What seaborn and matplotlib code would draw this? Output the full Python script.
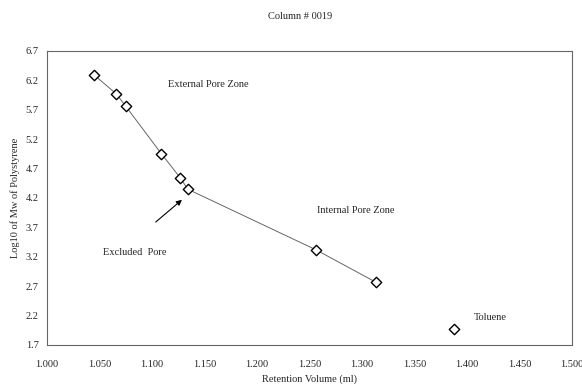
import matplotlib
matplotlib.use("Agg")
import matplotlib.pyplot as plt
import numpy as np
import pandas as pd
import seaborn as sns

# retention volume (ml) vs log10 of Mw
ret_volume = [1.045, 1.066, 1.075, 1.109, 1.127, 1.134, 1.256, 1.313]
log_mw = [6.29, 5.97, 5.76, 4.95, 4.54, 4.35, 3.32, 2.77]
toluene_volume = [1.388]
toluene_log_mw = [1.97]
x_ticks = [1.000, 1.050, 1.100, 1.150, 1.200, 1.250, 1.300, 1.350, 1.400, 1.450, 1.500]
y_ticks = [1.7, 2.2, 2.7, 3.2, 3.7, 4.2, 4.7, 5.2, 5.7, 6.2, 6.7]

df = pd.DataFrame({'vol': ret_volume, 'logmw': log_mw})
df_tol = pd.DataFrame({'vol': toluene_volume, 'logmw': toluene_log_mw})

sns.set_style("white")
plt.rcParams['font.family'] = ['Liberation Serif', 'DejaVu Serif']

fig = plt.figure(figsize=(5.82, 3.84), dpi=100)
ax = fig.add_axes([0.0808, 0.1016, 0.902, 0.7656])

sns.lineplot(x='vol', y='logmw', data=df, ax=ax, color='#666666', linewidth=0.7, sort=False)
sns.scatterplot(x='vol', y='logmw', data=df, ax=ax, marker='D', s=28,
                facecolor='white', edgecolor='black', linewidth=1.0, zorder=3)
sns.scatterplot(x='vol', y='logmw', data=df_tol, ax=ax, marker='D', s=28,
                facecolor='white', edgecolor='black', linewidth=1.0, zorder=3)

ax.set_xlim(1.0, 1.5)
ax.set_ylim(1.7, 6.7)
ax.set_xticks(x_ticks)
ax.set_xticklabels(['%.3f' % v for v in x_ticks], fontsize=7.5)
ax.set_yticks(y_ticks)
ax.set_yticklabels(['%.1f' % v for v in y_ticks], fontsize=7.5)
ax.tick_params(axis='both', direction='out', length=3, width=0.6, color='#777777', pad=3)
ax.tick_params(axis='x', pad=8)
for sp in ax.spines.values():
    sp.set_color('#666666')
    sp.set_linewidth(0.8)

ax.set_xlabel('Retention Volume (ml)', fontsize=7.5, labelpad=4)
ax.set_ylabel('Log10 of Mw of Polystyrene', fontsize=7.5, labelpad=4)
fig.text(0.515, 0.958, 'Column # 0019', ha='center', va='center', fontsize=7.5)

ax.text(1.115, 6.13, 'External Pore Zone', fontsize=7.5, va='center')
ax.text(1.257, 3.98, 'Internal Pore Zone', fontsize=7.5, va='center')
ax.text(1.053, 3.27, 'Excluded  Pore', fontsize=7.5, va='center')
ax.text(1.407, 2.17, 'Toluene', fontsize=7.5, va='center')
ax.annotate('', xy=(1.1305, 4.20), xytext=(1.1015, 3.76),
            arrowprops=dict(arrowstyle='-|>', color='black', lw=0.8, mutation_scale=8))

fig.savefig('out.png', dpi=100)
